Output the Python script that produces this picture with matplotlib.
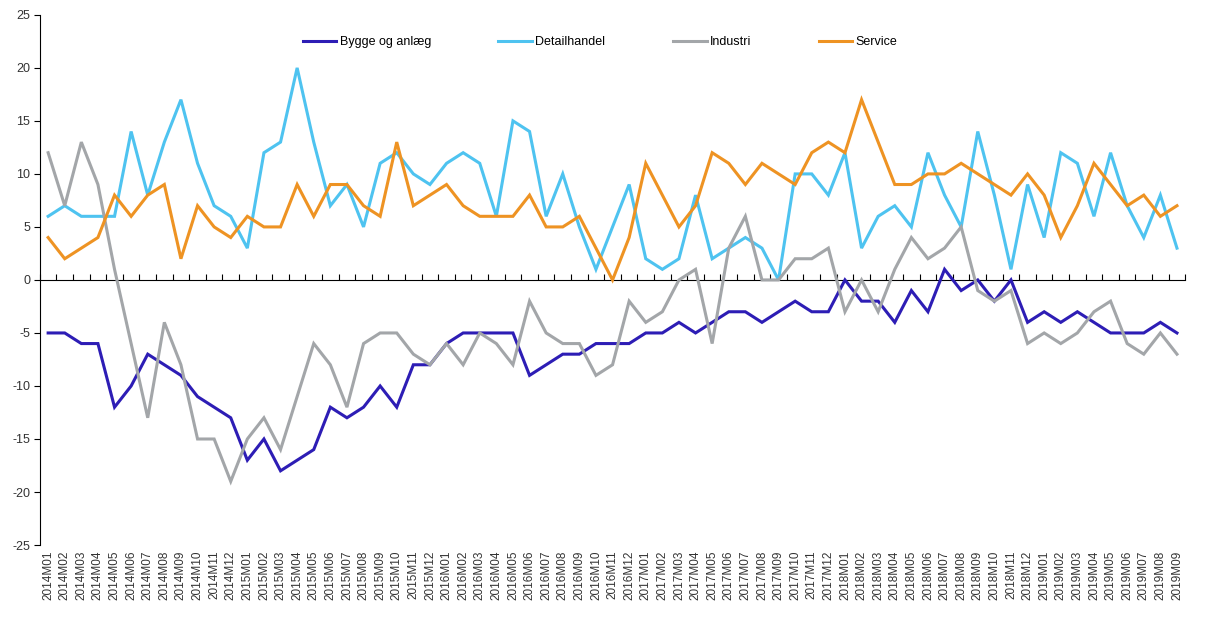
import numpy as np
import matplotlib
matplotlib.use('Agg')
import matplotlib.pyplot as plt

plt.rcParams['font.family'] = ['Liberation Sans', 'DejaVu Sans']
plt.rcParams['axes.unicode_minus'] = False

# Måneder 2014M01 - 2019M09
maaneder = [f'{aar}M{m:02d}' for aar in range(2014, 2020) for m in range(1, 13)][:69]

bygge = [-5, -5, -6, -6, -12, -10, -7, -8, -9, -11, -12, -13,
         -17, -15, -18, -17, -16, -12, -13, -12, -10, -12, -8, -8,
         -6, -5, -5, -5, -5, -9, -8, -7, -7, -6, -6, -6,
         -5, -5, -4, -5, -4, -3, -3, -4, -3, -2, -3, -3,
         0, -2, -2, -4, -1, -3, 1, -1, 0, -2, 0, -4,
         -3, -4, -3, -4, -5, -5, -5, -4, -5]

detail = [6, 7, 6, 6, 6, 14, 8, 13, 17, 11, 7, 6,
          3, 12, 13, 20, 13, 7, 9, 5, 11, 12, 10, 9,
          11, 12, 11, 6, 15, 14, 6, 10, 5, 1, 5, 9,
          2, 1, 2, 8, 2, 3, 4, 3, 0, 10, 10, 8,
          12, 3, 6, 7, 5, 12, 8, 5, 14, 8, 1, 9,
          4, 12, 11, 6, 12, 7, 4, 8, 3]

industri = [12, 7, 13, 9, 1, -6, -13, -4, -8, -15, -15, -19,
            -15, -13, -16, -11, -6, -8, -12, -6, -5, -5, -7, -8,
            -6, -8, -5, -6, -8, -2, -5, -6, -6, -9, -8, -2,
            -4, -3, 0, 1, -6, 3, 6, 0, 0, 2, 2, 3,
            -3, 0, -3, 1, 4, 2, 3, 5, -1, -2, -1, -6,
            -5, -6, -5, -3, -2, -6, -7, -5, -7]

service = [4, 2, 3, 4, 8, 6, 8, 9, 2, 7, 5, 4,
           6, 5, 5, 9, 6, 9, 9, 7, 6, 13, 7, 8,
           9, 7, 6, 6, 6, 8, 5, 5, 6, 3, 0, 4,
           11, 8, 5, 7, 12, 11, 9, 11, 10, 9, 12, 13,
           12, 17, 13, 9, 9, 10, 10, 11, 10, 9, 8, 10,
           8, 4, 7, 11, 9, 7, 8, 6, 7]

serier = [
    ('Bygge og anlæg', bygge, '#2D1DB5'),
    ('Detailhandel', detail, '#4EC3F0'),
    ('Industri', industri, '#A3A6A9'),
    ('Service', service, '#EE9323'),
]

fig = plt.figure(figsize=(12.07, 6.19), dpi=100)
ax = fig.add_axes([0.033, 0.1195, 0.949, 0.8565])

x = np.arange(len(maaneder))
for navn, vaerdier, farve in serier:
    ax.plot(x, vaerdier, color=farve, lw=2.2, label=navn, solid_joinstyle='miter')

ax.set_xlim(-0.5, len(maaneder) - 0.5)
ax.set_ylim(-25, 25)
ax.set_yticks(range(-25, 26, 5))
ax.tick_params(axis='y', labelsize=9, length=4, width=0.8, direction='out', pad=3,
               labelcolor='#333333')

ax.set_xticks(x)
ax.set_xticklabels(maaneder, rotation=90, fontsize=8.5, color='#333333')
ax.tick_params(axis='x', length=0, pad=4)

for s in ['top', 'right', 'bottom']:
    ax.spines[s].set_visible(False)
ax.spines['left'].set_linewidth(0.8)

# nul-linje med tickmarks mellem kategorierne
nul = ax.secondary_xaxis(0.5)
nul.set_xticks(np.arange(-0.5, len(maaneder), 1))
nul.set_xticklabels([])
nul.tick_params(length=4, width=0.8, direction='out')
nul.spines['bottom'].set_linewidth(0.8)

ax.legend(loc='center', bbox_to_anchor=(0.489, 0.949), ncol=4, frameon=False,
          fontsize=9, handlelength=2.7, handletextpad=0.25, columnspacing=5.4)

fig.savefig('out.png', dpi=100)
